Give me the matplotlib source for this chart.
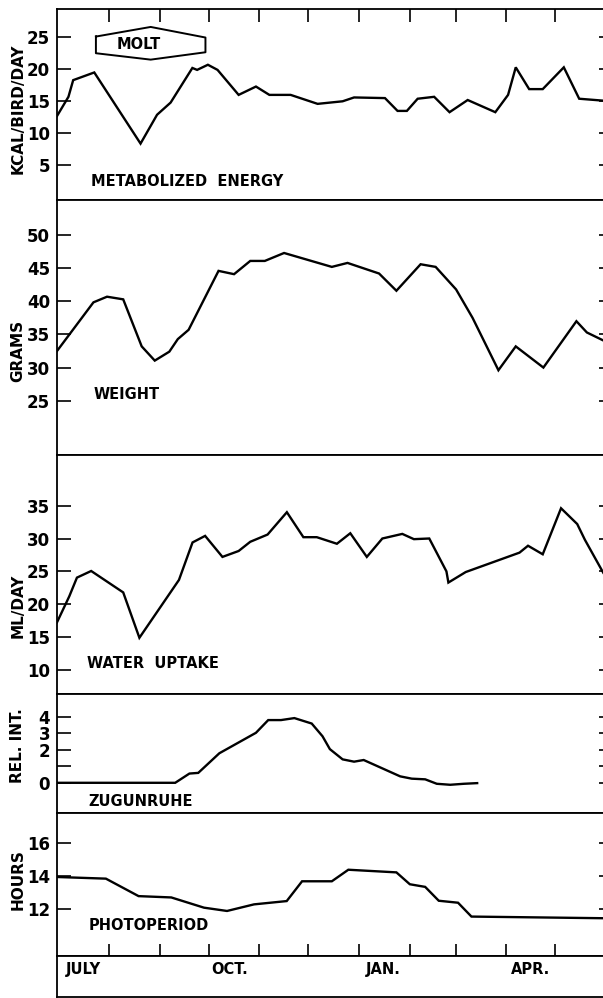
import matplotlib.pyplot as plt

plt.rcParams['font.family'] = ['DejaVu Sans']
plt.rcParams['font.weight'] = 'bold'
plt.rcParams['axes.labelweight'] = 'bold'

# x values are days counted from July 1
energy_day = [-0.8, 6.2, 9.1, 22, 50.3, 60.4, 68.7, 82, 84.9, 91.5, 97.4, 110.3, 120.9, 129.1, 142.1,
              158.6, 173.9, 180.9, 199.8, 207.5, 213.2, 219.8, 229.9, 239.3, 250.4, 267.3, 275.1,
              279.8, 288, 296.3, 309.2, 318.6, 333.3]
energy_val = [12.6, 15.6, 18.2, 19.4, 8.3, 12.8, 14.7, 20.1, 19.8, 20.6, 19.8, 15.9, 17.2, 15.9, 15.9,
              14.5, 14.9, 15.5, 15.4, 13.4, 13.4, 15.3, 15.6, 13.2, 15.1, 13.2, 15.9,
              20.2, 16.8, 16.8, 20.2, 15.3, 15.0]

weight_day = [-0.8, 21.5, 29.8, 39.7, 51, 59, 67.9, 73.1, 79.7, 98, 107.5, 117.4, 126.3, 138.1,
              167.3, 176.9, 196.2, 206.8, 221.6, 230.8, 243.3, 253.4, 269.2, 279.8, 296.7, 316.9,
              323.3, 333.3]
weight_val = [32.5, 39.85, 40.7, 40.3, 33.2, 31.05, 32.4, 34.3, 35.7, 44.6, 44.1, 46.1, 46.1, 47.3,
              45.2, 45.8, 44.2, 41.6, 45.6, 45.2, 41.8, 37.5, 29.6, 33.2, 30.0, 37.0,
              35.3, 34.1]

water_day = [-0.8, 6.7, 11.4, 20.1, 39.7, 49.6, 73.8, 82.1, 89.8, 100.4, 110.3, 117.4, 128, 139.8,
             149.9, 158.1, 170.4, 178.6, 188.7, 198.2, 210.4, 217.5, 226.9, 237.4, 238.6, 249.2,
             282.1, 287.3, 296.3, 307.5, 317.4, 322.1, 333.3]
water_val = [17.25, 21.2, 24.05, 25.06, 21.8, 14.9, 23.7, 29.4, 30.4, 27.2, 28.1, 29.5, 30.6, 34.0,
             30.2, 30.2, 29.2, 30.8, 27.2, 30.0, 30.7, 29.9, 30.0, 25.0, 23.3, 24.9,
             27.85, 28.9, 27.6, 34.6, 32.2, 29.8, 24.8]

zug_day = [-0.8, 71.5, 80.2, 85.6, 98.5, 120.9, 128.4, 136.2, 144.4, 155, 161.6, 166.1, 173.9,
           180.9, 186.8, 209.1, 216.2, 224.4, 231.5, 239.7, 248, 256.2]
zug_val = [0, 0, 0.56, 0.6, 1.79, 3.03, 3.8, 3.8, 3.92, 3.59, 2.82, 2.04, 1.42,
           1.28, 1.38, 0.39, 0.25, 0.21, -0.06, -0.12, -0.06, -0.02]

photo_day = [-0.8, 29.1, 49.1, 69.1, 89.1, 103.2, 119.7, 139.7, 149.1, 167.3, 177.4, 206.8, 215,
             224.4, 232.7, 244.5, 252.7, 333.3]
photo_val = [13.94, 13.84, 12.78, 12.7, 12.08, 11.88, 12.28, 12.48, 13.68, 13.68, 14.38, 14.22, 13.5,
             13.34, 12.5, 12.38, 11.54, 11.44]

month_starts = [31, 62, 92, 123, 153, 184, 215, 243, 274, 304]
month_labels = ["JULY", "OCT.", "JAN.", "APR."]
month_label_days = [15.5, 105, 199, 289]
molt = (23, 90)

W, H = 603, 998
fig = plt.figure(figsize=(W / 100, H / 100), dpi=100)

def rect(top, bottom):
    left = 57
    right = W + 3
    return [left / W, 1 - bottom / H, (right - left) / W, (bottom - top) / H]

# (series, y limits, y ticks, y label, label position, panel title, title position, pixel rows)
panels = [
    (energy_day, energy_val, (-0.5, 29.3), [5, 10, 15, 20, 25], "KCAL/BIRD/DAY", 0.48,
     "METABOLIZED  ENERGY", (19.7, 2.4), (9, 200)),
    (weight_day, weight_val, (16.8, 55.3), [25, 30, 35, 40, 45, 50], "GRAMS", 0.41,
     "WEIGHT", (21.5, 25.9), (200, 455)),
    (water_day, water_val, (6.35, 42.7), [10, 15, 20, 25, 30, 35], "ML/DAY", 0.37,
     "WATER  UPTAKE", (17.3, 11.0), (455, 694)),
    (zug_day, zug_val, (-1.83, 5.38), [0, 1, 2, 3, 4], "REL. INT.", 0.57,
     "ZUGUNRUHE", (18.4, -1.15), (694, 813)),
    (photo_day, photo_val, (9.18, 17.82), [12, 14, 16], "HOURS", 0.53,
     "PHOTOPERIOD", (18.4, 11.0), (813, 955.5)),
]

axes = []
for i, (xd, yd, ylim, yt, ylab, ylpos, title, tpos, rows) in enumerate(panels):
    ax = fig.add_axes(rect(*rows))
    ax.plot(xd, yd, color="black", lw=1.7, solid_joinstyle="miter")
    ax.set_xlim(-0.8, 335)
    ax.set_ylim(*ylim)
    ax.set_yticks(yt)
    if ylab == "REL. INT.":
        ax.set_yticklabels(["0", "", "2", "3", "4"])
    ax.tick_params(axis="y", which="both", direction="in", length=10, width=1.2,
                   labelsize=12, pad=5, right=True)
    ax.tick_params(axis="y", which="both", labelright=False)
    for t in ax.yaxis.get_ticklines()[1::2]:
        t.set_markersize(5)
    ax.set_xticks(month_starts)
    ax.tick_params(axis="x", direction="in", length=9, width=1.2, labelbottom=False,
                   bottom=(i == len(panels) - 1), top=(i == 0))
    ax.set_ylabel(ylab, fontsize=11)
    ax.yaxis.set_label_coords(-0.058, ylpos)
    ax.spines["right"].set_visible(False)
    for s in ["left", "top", "bottom"]:
        ax.spines[s].set_linewidth(1.3)
    ax.text(tpos[0], tpos[1], title, fontsize=10.5, ha="left", va="center")
    axes.append(ax)

# molt box on the energy panel
ax = axes[0]
mid = (molt[0] + molt[1]) / 2
hx = [molt[0], mid, molt[1], molt[1], mid, molt[0], molt[0]]
hy = [25.0, 26.5, 24.85, 22.55, 21.4, 22.4, 25.0]
ax.plot(hx, hy, color="black", lw=1.4)
ax.text(mid - 7, 23.7, "MOLT", fontsize=10.5, ha="center", va="center")

# month strip
sx = fig.add_axes(rect(955.5, 997))
sx.set_xlim(-0.8, 335)
sx.set_ylim(0, 1)
sx.set_xticks([])
sx.set_yticks([])
sx.spines["right"].set_visible(False)
for s in ["left", "top", "bottom"]:
    sx.spines[s].set_linewidth(1.3)
for d, lab in zip(month_label_days, month_labels):
    sx.text(d, 0.66, lab, fontsize=10.5, ha="center", va="center")

fig.savefig("out.png", dpi=100)
